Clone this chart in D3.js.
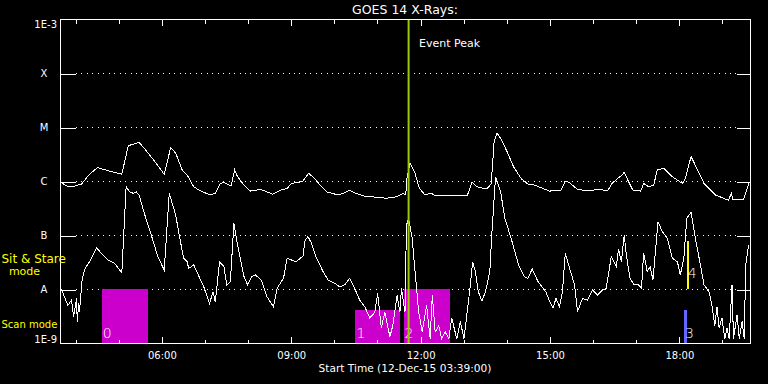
<!DOCTYPE html>
<html>
<head>
<meta charset="utf-8">
<script src="https://cdn.jsdelivr.net/npm/d3@7"></script>
<style>
  body { margin: 0; background: #000; }
  svg { display: block; font-family: "DejaVu Sans", sans-serif; }
</style>
</head>
<body>
<svg id="chart"></svg>
<script>
// GOES long channel (1-8 A)
const longTimes = ["03:40","03:48","03:57","04:09","04:20","04:31","04:46","05:05","05:14","05:29","05:36","05:51","06:04","06:13","06:20","06:29","06:36","06:45","06:55","07:08","07:15","07:22","07:27","07:37","07:42","07:46","07:55","08:04","08:18","08:35","08:46","08:55","09:01","09:16","09:25","09:33","09:43","09:50","10:06","10:13","10:22","10:31","10:41","10:59","11:13","11:27","11:36","11:40","11:42","11:46","11:53","11:59","12:07","12:15","12:21","12:47","13:06","13:12","13:19","13:33","13:39","13:43","13:47","13:52","14:01","14:10","14:21","14:30","14:39","15:00","15:16","15:22","15:27","15:39","15:53","16:10","16:21","16:27","16:35","16:40","16:44","16:49","16:56","17:07","17:11","17:18","17:25","17:30","17:39","17:51","18:05","18:09","18:17","18:25","18:35","18:51","19:09","19:13","19:15","19:30","19:35","19:38"];
const longFlux = [9.5e-7,8.1e-7,7.9e-7,8.8e-7,1.33e-6,1.77e-6,1.55e-6,1.33e-6,4.5e-6,5.2e-6,4.05e-6,2.28e-6,1.33e-6,4.16e-6,3.27e-6,1.6e-6,1.29e-6,7.8e-7,6.5e-7,5.5e-7,5.9e-7,9.0e-7,9.5e-7,8.0e-7,1.6e-6,1.2e-6,8.4e-7,6.5e-7,7.0e-7,5.7e-7,6.8e-7,7.3e-7,9.0e-7,9.7e-7,1.39e-6,1.12e-6,7.8e-7,6.3e-7,5.5e-7,5.9e-7,6.7e-7,5.9e-7,5.3e-7,5.0e-7,4.8e-7,5.1e-7,5.9e-7,5.5e-7,1.2e-6,2.13e-6,1.39e-6,7.3e-7,5.5e-7,6.0e-7,5.3e-7,5.5e-7,5.5e-7,9.5e-7,7.8e-7,7.1e-7,9.0e-7,5.4e-6,7.7e-6,6.2e-6,3.5e-6,1.84e-6,1.09e-6,8.8e-7,8.4e-7,6.5e-7,6.8e-7,1.0e-6,9.5e-7,7.0e-7,6.6e-7,7.0e-7,6.6e-7,9.0e-7,1.12e-6,1.25e-6,1.45e-6,1.04e-6,6.8e-7,6.5e-7,9.0e-7,7.8e-7,8.4e-7,1.6e-6,1.72e-6,1.2e-6,9.0e-7,1.12e-6,2.83e-6,1.72e-6,9.0e-7,5.5e-7,4.4e-7,5.9e-7,4.6e-7,4.6e-7,7.3e-7,9.7e-7];

// GOES short channel (0.5-4 A)
const shortTimes = ["03:41","03:46","03:50","03:55","03:58","04:02","04:03","04:05","04:06","04:10","04:14","04:20","04:30","04:36","04:46","04:55","05:05","05:11","05:16","05:21","05:25","05:29","05:37","05:46","05:55","06:04","06:11","06:20","06:24","06:31","06:36","06:38","06:45","06:59","07:07","07:12","07:15","07:21","07:27","07:31","07:36","07:41","07:46","07:55","08:00","08:06","08:11","08:19","08:27","08:36","08:41","08:50","08:55","09:01","09:08","09:13","09:17","09:20","09:24","09:29","09:36","09:45","09:52","10:01","10:08","10:15","10:22","10:29","10:36","10:43","10:50","10:57","11:01","11:06","11:11","11:18","11:22","11:28","11:32","11:34","11:39","11:41","11:44","11:49","11:53","11:58","12:03","12:09","12:14","12:17","12:21","12:26","12:30","12:35","12:40","12:44","12:51","12:56","13:01","13:05","13:10","13:13","13:17","13:21","13:26","13:31","13:37","13:40","13:45","13:52","13:58","14:08","14:17","14:25","14:30","14:36","14:44","14:51","14:55","15:00","15:05","15:09","15:14","15:18","15:22","15:28","15:35","15:39","15:46","15:53","16:00","16:07","16:14","16:19","16:26","16:33","16:36","16:40","16:44","16:47","16:52","16:58","17:04","17:08","17:11","17:16","17:20","17:24","17:31","17:37","17:44","17:51","17:58","18:02","18:07","18:11","18:17","18:23","18:30","18:35","18:42","18:46","18:50","18:53","18:56","19:00","19:04","19:07","19:10","19:14","19:16","19:21","19:24","19:28","19:31","19:33","19:37"];
const shortFlux = [1.0e-8,6.7e-9,5.0e-9,6.2e-9,3.1e-9,6.7e-9,2.5e-9,5.4e-9,3.7e-9,1.58e-8,2.4e-8,3.2e-8,5.85e-8,4.6e-8,3.45e-8,3.0e-8,2.0e-8,7.8e-7,6.3e-7,5.9e-7,6.3e-7,5.5e-7,2.35e-7,1.0e-7,4.0e-8,2.25e-8,5.9e-7,2.35e-7,1.15e-7,3.7e-8,3.2e-8,2.4e-8,2.8e-8,1.1e-8,5.4e-9,8.9e-9,5.7e-9,3.2e-8,2.6e-8,1.19e-8,1.37e-8,1.65e-7,6.5e-8,1.7e-8,1.19e-8,1.7e-8,1.82e-8,1.47e-8,7.2e-9,4.7e-9,1.03e-8,1.58e-8,3.7e-8,3.45e-8,3.2e-8,3.7e-8,4.0e-8,8.0e-8,9.3e-8,7.0e-8,3.7e-8,2.1e-8,1.47e-8,1.28e-8,1.1e-8,1.19e-8,1.58e-8,1.03e-8,6.2e-9,4.7e-9,2.9e-9,3.7e-9,8.3e-9,1.9e-9,3.7e-9,1.3e-9,2.1e-9,7.7e-9,3.7e-9,1.03e-8,3.7e-9,1.5e-7,2.04e-7,8.7e-8,2.1e-8,3.8e-9,1.6e-9,5.0e-9,1.2e-9,7.7e-9,1.6e-9,2.1e-9,1.2e-9,1.6e-9,1.2e-9,2.9e-9,1.2e-9,2.5e-9,1.2e-9,3.3e-9,1.19e-8,3.2e-8,2.1e-8,8.9e-9,6.0e-9,8.9e-9,2.1e-8,1.15e-7,1.2e-6,6.3e-7,2.04e-7,7.5e-8,2.8e-8,1.7e-8,1.58e-8,2.35e-8,1.37e-8,1.03e-8,8.9e-9,6.0e-9,4.4e-9,6.7e-9,4.7e-9,8.9e-9,4.6e-8,2.4e-8,1.19e-8,3.8e-9,6.7e-9,6.2e-9,9.6e-9,7.7e-9,9.6e-9,1.03e-8,4.0e-8,2.6e-8,5.5e-8,3.2e-8,1.0e-7,4.2e-8,1.58e-8,1.19e-8,1.19e-8,1.03e-8,4.6e-8,2.1e-8,2.6e-8,1.47e-8,1.77e-7,1.15e-7,8.7e-8,3.7e-8,3.2e-8,1.82e-8,3.7e-8,2.04e-7,2.64e-7,8.7e-8,2.8e-8,1.19e-8,8.9e-9,5.0e-9,2.1e-9,4.7e-9,1.9e-9,2.9e-9,1.2e-9,1.9e-9,1.2e-9,1.19e-8,1.2e-9,3.3e-9,1.2e-9,2.5e-9,1.2e-9,2.8e-8,6.5e-8];

// flare class levels
const classLevels = [1e-8, 1e-7, 1e-6, 1e-5, 1e-4];
const classLabels = ["A", "B", "C", "M", "X"];

// observing modes
const modeLabels = ["0", "1", "2", "3", "4"];
const modeStarts = ["04:37", "10:30", "11:37", "18:07", "18:11"];
const modeEnds = ["05:41", "11:32", "12:41", "18:11", "18:11"];
const modeLow = [1e-9, 1e-9, 1e-9, 1e-9, 1e-8];
const modeHigh = [1e-8, 4.1e-9, 1e-8, 4.1e-9, 7.6e-8];
const modeColors = ["#cc00cc", "#cc00cc", "#cc00cc", "#6464ff", "#ffff00"];

const eventPeak = "11:44";
const startTime = "03:39";
const endTime = "19:39";

const width = 768;
const height = 384;
const plotLeft = 60, plotRight = 750, plotTop = 19, plotBottom = 343;

const parse = d3.timeParse("%H:%M");

const x = d3.scaleTime()
    .domain([parse(startTime), parse(endTime)])
    .range([plotLeft, plotRight]);

const y = d3.scaleLog()
    .domain([1e-9, 1e-3])
    .range([plotBottom, plotTop]);

const svg = d3.select("#chart")
    .attr("width", width)
    .attr("height", height)
    .style("background", "#000");

svg.append("defs").append("clipPath")
    .attr("id", "plot")
    .append("rect")
    .attr("x", plotLeft).attr("y", plotTop)
    .attr("width", plotRight - plotLeft).attr("height", plotBottom - plotTop);

// title
svg.append("text")
    .attr("x", (plotLeft + plotRight) / 2)
    .attr("y", 14)
    .attr("text-anchor", "middle")
    .attr("fill", "#fff")
    .style("font-size", "12.5px")
    .text("GOES 14 X-Rays:");

// dotted class grid
svg.append("g")
    .selectAll("line")
    .data(classLevels)
    .join("line")
    .attr("x1", plotLeft + 16)
    .attr("x2", plotRight - 14)
    .attr("y1", d => Math.round(y(d)) + 0.5)
    .attr("y2", d => Math.round(y(d)) + 0.5)
    .attr("stroke", "#fff")
    .attr("stroke-dasharray", "1,4.45")
    .attr("shape-rendering", "crispEdges");

// observing mode boxes
const modes = svg.append("g").attr("clip-path", "url(#plot)");
modes.selectAll("rect")
    .data(modeLabels)
    .join("rect")
    .attr("x", (d, i) => x(parse(modeStarts[i])))
    .attr("y", (d, i) => y(modeHigh[i]))
    .attr("width", (d, i) => Math.max(x(parse(modeEnds[i])) - x(parse(modeStarts[i])), 2))
    .attr("height", (d, i) => y(modeLow[i]) - y(modeHigh[i]))
    .attr("fill", (d, i) => modeColors[i])
    .attr("shape-rendering", "crispEdges");

// curves
const line = d3.line()
    .x(d => x(d[0]))
    .y(d => y(d[1]));

const longData = longTimes.map((t, i) => [parse(t), longFlux[i]]);
const shortData = shortTimes.map((t, i) => [parse(t), shortFlux[i]]);

const curves = svg.append("g").attr("clip-path", "url(#plot)");
[longData, shortData].forEach(data => {
    curves.append("path")
        .datum(data)
        .attr("d", line)
        .attr("fill", "none")
        .attr("stroke", "#fff")
        .attr("stroke-width", 1)
        .attr("shape-rendering", "crispEdges");
});

// mode numbers
svg.append("g")
    .selectAll("text")
    .data(modeLabels)
    .join("text")
    .attr("x", (d, i) => x(parse(modeStarts[i])) + 1)
    .attr("y", (d, i) => modeLow[i] > 1e-9 ? y(modeLow[i]) - 11 : y(modeLow[i]) - 5)
    .attr("fill", "#fff")
    .style("font-size", "14px")
    .style("font-weight", 300)
    .text(d => d);

// event peak
svg.append("line")
    .attr("x1", x(parse(eventPeak)))
    .attr("x2", x(parse(eventPeak)))
    .attr("y1", plotTop)
    .attr("y2", plotBottom)
    .attr("stroke", "#99cc00")
    .attr("stroke-width", 2);
svg.append("text")
    .attr("x", x(parse(eventPeak)) + 10.5)
    .attr("y", 47)
    .attr("fill", "#fff")
    .style("font-size", "11px")
    .text("Event Peak");

// frame
svg.append("rect")
    .attr("x", plotLeft + 0.5).attr("y", plotTop + 0.5)
    .attr("width", plotRight - plotLeft).attr("height", plotBottom - plotTop)
    .attr("fill", "none")
    .attr("stroke", "#fff")
    .attr("shape-rendering", "crispEdges");

// x axes (ticks point inward)
const fmt = d3.timeFormat("%H:%M");
const styleAxis = g => {
    g.select(".domain").remove();
    g.selectAll("line").attr("stroke", "#fff").attr("shape-rendering", "crispEdges");
    g.selectAll("text").attr("fill", "#fff").style("font-size", "10px").style("font-family", "DejaVu Sans");
};

svg.append("g")
    .attr("transform", `translate(0.5,${plotBottom + 0.5})`)
    .call(d3.axisBottom(x).ticks(d3.timeHour.every(1)).tickSize(-4).tickFormat(""))
    .call(styleAxis);
svg.append("g")
    .attr("transform", `translate(0.5,${plotBottom + 0.5})`)
    .call(d3.axisBottom(x).ticks(d3.timeHour.every(3)).tickSize(-6.5).tickPadding(8.5).tickFormat(fmt))
    .call(styleAxis);
svg.append("g")
    .attr("transform", `translate(0.5,${plotTop + 0.5})`)
    .call(d3.axisTop(x).ticks(d3.timeHour.every(1)).tickSize(-4).tickFormat(""))
    .call(styleAxis);
svg.append("g")
    .attr("transform", `translate(0.5,${plotTop + 0.5})`)
    .call(d3.axisTop(x).ticks(d3.timeHour.every(3)).tickSize(-6.5).tickFormat(""))
    .call(styleAxis);

svg.append("text")
    .attr("x", (plotLeft + plotRight) / 2)
    .attr("y", 372)
    .attr("text-anchor", "middle")
    .attr("fill", "#fff")
    .style("font-size", "10.6px")
    .text("Start Time (12-Dec-15 " + startTime + ":00)");

// y axes
svg.append("g")
    .attr("transform", `translate(${plotLeft + 0.5},0.5)`)
    .call(d3.axisLeft(y).tickValues(classLevels).tickSize(-15)
        .tickFormat((d, i) => classLabels[i]))
    .call(styleAxis)
    .call(g => g.selectAll("text").attr("text-anchor", "middle").attr("x", -16.5));
svg.append("g")
    .attr("transform", `translate(${plotRight + 0.5},0.5)`)
    .call(d3.axisRight(y).tickValues(classLevels).tickSize(-14).tickFormat(""))
    .call(styleAxis);

svg.append("text")
    .attr("x", 57).attr("y", y(1e-3) + 8.5)
    .attr("text-anchor", "end").attr("fill", "#fff")
    .style("font-size", "10px")
    .text("1E-3");
svg.append("text")
    .attr("x", 57).attr("y", y(1e-9))
    .attr("text-anchor", "end").attr("fill", "#fff")
    .style("font-size", "10px")
    .text("1E-9");

// mode legend
const legend = svg.append("g")
    .attr("fill", "#ffff00");
legend.append("text").attr("x", 1.5).attr("y", 263).style("font-size", "12px").text("Sit & Stare");
legend.append("text").attr("x", 24.5).attr("y", 275).attr("text-anchor", "middle").style("font-size", "11px").text("mode");
legend.append("text").attr("x", 1.5).attr("y", 328).style("font-size", "10px").text("Scan mode");
</script>
</body>
</html>
